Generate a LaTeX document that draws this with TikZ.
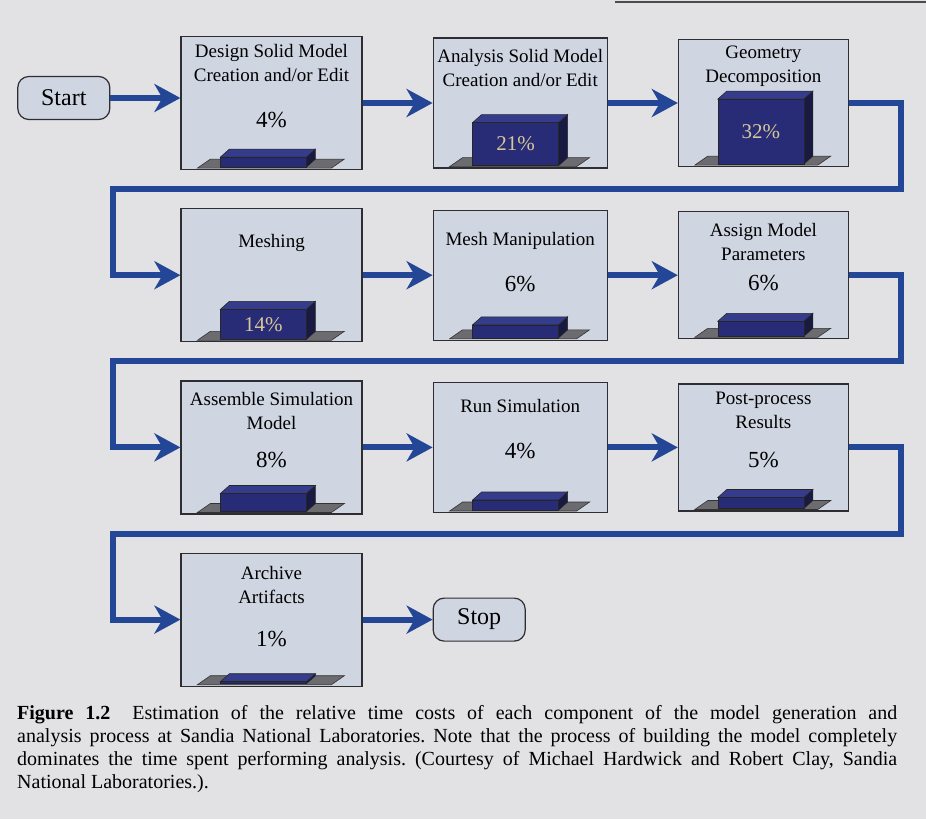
\documentclass[tikz,border=0pt]{standalone}
\usepackage{fontspec}
\setmainfont{Liberation Serif}
\usetikzlibrary{arrows.meta, positioning, calc}
\definecolor{pagegray}{RGB}{226,226,229}
\definecolor{boxfill}{RGB}{207,213,225}
\definecolor{boxline}{RGB}{45,45,50}
\definecolor{flowblue}{RGB}{36,70,150}
\definecolor{barfront}{RGB}{40,44,118}
\definecolor{bartop}{RGB}{54,60,140}
\definecolor{barside}{RGB}{24,26,66}
\definecolor{floorgray}{RGB}{108,108,112}
\definecolor{bartext}{RGB}{214,200,152}

% bar chart at the foot of a stage box: box, box width, bar height, label in bar
\newcommand{\costbar}[4]{%
  \begin{scope}[shift={(#1.south west)}]
    \draw[floor] (17,-2) -- (#2-30,-2) -- (#2-17,-11) -- (30,-11) -- cycle;
    \draw[bar, fill=barside] (126,-3) -- (135,-11) -- (135,-11-#3) -- (126,-3-#3) -- cycle;
    \draw[bar, fill=bartop] (40,-3-#3) -- (126,-3-#3) -- (135,-11-#3) -- (49,-11-#3) -- cycle;
    \draw[bar, fill=barfront] (40,-3) rectangle (126,-3-#3);
    \node[inbar] at (83,-3-#3/2) {#4};
  \end{scope}}

\begin{document}
\begin{tikzpicture}[
  x=1pt, y=-1pt,
  stage/.style={draw=boxline, line width=1.2pt, fill=boxfill, inner sep=0pt},
  colA/.style={minimum width=181pt, minimum height=133pt},
  colB/.style={minimum width=174pt, minimum height=130pt},
  colC/.style={minimum width=170pt, minimum height=127pt},
  terminal/.style={draw=boxline, line width=1.2pt, fill=boxfill, rounded corners=11pt,
                   minimum width=92pt, minimum height=43pt,
                   font=\fontsize{24}{28}\selectfont},
  title/.style={align=center, font=\fontsize{19}{24}\selectfont, inner sep=0pt},
  pct/.style={font=\fontsize{23}{26}\selectfont, inner sep=0pt},
  inbar/.style={font=\fontsize{21}{24}\selectfont, text=bartext, inner sep=0pt},
  floor/.style={draw=black!80, line width=0.6pt, fill=floorgray},
  bar/.style={draw=black!85, line width=0.6pt},
  flow/.style={-{Stealth[length=26pt, width=28pt, inset=8pt]}, line width=6pt,
               color=flowblue},
  caption/.style={anchor=north west, inner sep=0pt, text width=880pt, align=justify,
                  font=\fontsize{20}{23}\selectfont}
]
  \useasboundingbox[fill=pagegray] (0,0) rectangle (926,819);
  \draw[line width=1.5pt, black!70] (615,2) -- (926,2);

  % stages
  \node[stage, colA] (design)    at (271.5,103) {};
  \node[stage, colB, right=70pt of design]   (analysis)  {};
  \node[stage, colC, right=70pt of analysis] (geometry)  {};
  \node[stage, colA, below=38pt of design]   (meshing)   {};
  \node[stage, colB, right=70pt of meshing]  (meshmanip) {};
  \node[stage, colC, right=70pt of meshmanip](assign)    {};
  \node[stage, colA, below=38pt of meshing]  (assemble)  {};
  \node[stage, colB, right=70pt of assemble] (runsim)    {};
  \node[stage, colC, right=70pt of runsim]   (postproc)  {};
  \node[stage, colA, below=38pt of assemble] (archive)   {};

  \node[terminal, left=70pt of design, yshift=5pt] (start) {Start};
  \node[terminal, right=70pt of archive]           (stop)  {Stop};

  % titles
  \node[title] at ($(design.north)+(0,27)$)    {Design Solid Model\\Creation and/or Edit};
  \node[title] at ($(analysis.north)+(0,31)$)  {Analysis Solid Model\\Creation and/or Edit};
  \node[title] at ($(geometry.north)+(0,27)$)  {Geometry\\Decomposition};
  \node[title] at ($(meshing.north)+(0,35)$)   {Meshing};
  \node[title] at ($(meshmanip.north)+(0,31)$) {Mesh Manipulation};
  \node[title] at ($(assign.north)+(0,31)$)    {Assign Model\\Parameters};
  \node[title] at ($(assemble.north)+(0,31)$)  {Assemble Simulation\\Model};
  \node[title] at ($(runsim.north)+(0,24)$)    {Run Simulation};
  \node[title] at ($(postproc.north)+(0,27)$)  {Post-process\\Results};
  \node[title] at ($(archive.north)+(0,32)$)   {Archive\\Artifacts};

  % percentages
  \node[pct] at ($(design.north)+(0,84)$)    {4\%};
  \node[pct] at ($(meshmanip.north)+(0,74)$) {6\%};
  \node[pct] at ($(assign.north)+(0,72)$)    {6\%};
  \node[pct] at ($(assemble.north)+(0,80)$)  {8\%};
  \node[pct] at ($(runsim.north)+(0,69)$)    {4\%};
  \node[pct] at ($(postproc.north)+(0,77)$)  {5\%};
  \node[pct] at ($(archive.north)+(0,86)$)   {1\%};

  % bars
  \costbar{design}{181}{10}{}
  \costbar{analysis}{174}{43}{21\%}
  \costbar{geometry}{170}{65}{32\%}
  \costbar{meshing}{181}{30}{14\%}
  \costbar{meshmanip}{174}{13}{}
  \costbar{assign}{170}{15}{}
  \costbar{assemble}{181}{18}{}
  \costbar{runsim}{174}{10}{}
  \costbar{postproc}{170}{11}{}
  \costbar{archive}{181}{2}{}

  % flow
  \coordinate (railR) at (901,0);
  \coordinate (railL) at (113,0);
  \coordinate (midA) at ($(design.south)!0.5!(meshing.north)$);
  \coordinate (midB) at ($(meshing.south)!0.5!(assemble.north)$);
  \coordinate (midC) at ($(assemble.south)!0.5!(archive.north)$);

  \draw[flow] (start) -- (start -| design.west);
  \draw[flow] (design) -- (analysis);
  \draw[flow] (analysis) -- (geometry);
  \draw[flow] (geometry.east) -| (midA -| railR) -- (midA -| railL) |- (meshing.west);
  \draw[flow] (meshing) -- (meshmanip);
  \draw[flow] (meshmanip) -- (assign);
  \draw[flow] (assign.east) -| (midB -| railR) -- (midB -| railL) |- (assemble.west);
  \draw[flow] (assemble) -- (runsim);
  \draw[flow] (runsim) -- (postproc);
  \draw[flow] (postproc.east) -| (midC -| railR) -- (midC -| railL) |- (archive.west);
  \draw[flow] (archive) -- (stop);

  % caption
  \node[caption] (cap) at (17,705) {\tolerance=9999\frenchspacing
    \textbf{Figure 1.2}\hspace{0.5em} Estimation of the relative time costs of each component of the model generation and\linebreak
    analysis process at Sandia National Laboratories. Note that the process of building the model completely\linebreak
    dominates the time spent performing analysis. (Courtesy of Michael Hardwick and Robert Clay, Sandia\linebreak
    National Laboratories.).};
\end{tikzpicture}
\end{document}
